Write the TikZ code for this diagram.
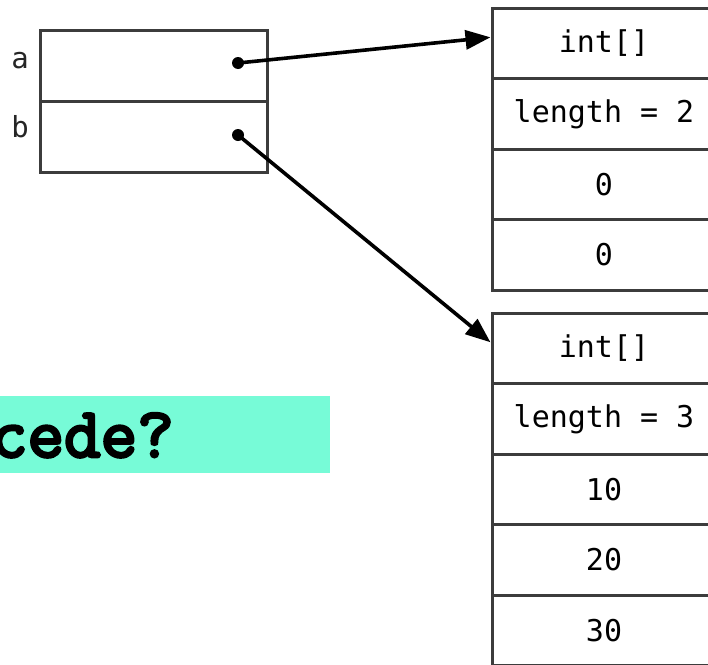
\documentclass[tikz,border=0pt]{standalone}
\usepackage{fontspec}
\usetikzlibrary{arrows.meta}
\newfontfamily\cellfont{DejaVu Sans Mono}
\newfontfamily\questionfont{Latin Modern Mono}[FakeBold=4]
\definecolor{boxline}{RGB}{60,60,60}
\definecolor{hilite}{RGB}{119,251,215}
\tikzset{
  cell/.style={draw=boxline, line width=3pt, rectangle, inner sep=0pt,
    minimum width=224pt, minimum height=70.5pt, font=\cellfont\fontsize{30}{30}\selectfont},
  varcell/.style={draw=boxline, line width=3pt, rectangle, inner sep=0pt,
    minimum width=227pt, minimum height=71pt},
  varname/.style={inner sep=0pt, anchor=base, font=\cellfont\fontsize{29}{29}\selectfont, text=black!85},
  refdot/.style={circle, fill=black, inner sep=0pt, minimum size=12pt},
  ref/.style={line width=3.6pt, -{Triangle[length=25pt,width=19pt]}},
}
\begin{document}
\begin{tikzpicture}[x=1pt, y=-1pt]
\useasboundingbox (0,0) rectangle (708,664);
\clip (0,0) rectangle (708,664);
\fill[white] (0,0) rectangle (708,664);

% variables a and b
\node[varcell] (va) at (153.5,65.5) {};
\node[varcell] (vb) at (153.5,136.5) {};
\node[varname] (la) at (20,68) {a};
\node[varname] (lb) at (20,137) {b};
\node[refdot] (da) at (238,63) {};
\node[refdot] (db) at (238,135) {};

% array referenced by a
\node[cell] (t0) at (604,43.25) {int[]};
\node[cell] (t1) at (604,113.75) {length = 2};
\node[cell] (t2) at (604,184.25) {0};
\node[cell] (t3) at (604,254.75) {0};

% array referenced by b
\node[cell] (u0) at (604,348.25) {int[]};
\node[cell] (u1) at (604,418.75) {length = 3};
\node[cell] (u2) at (604,489.25) {10};
\node[cell] (u3) at (604,559.75) {20};
\node[cell] (u4) at (604,630.25) {30};

% references
\draw[ref] (da.center) -- (t0.177);
\draw[ref] (db.center) -- (u0.177);

% question banner
\fill[hilite] (0,396) rectangle (330,473);
\node[inner sep=0pt, anchor=base east, font=\questionfont\fontsize{71}{71}\selectfont] (q) at (174,457) {cede?};
\end{tikzpicture}
\end{document}
